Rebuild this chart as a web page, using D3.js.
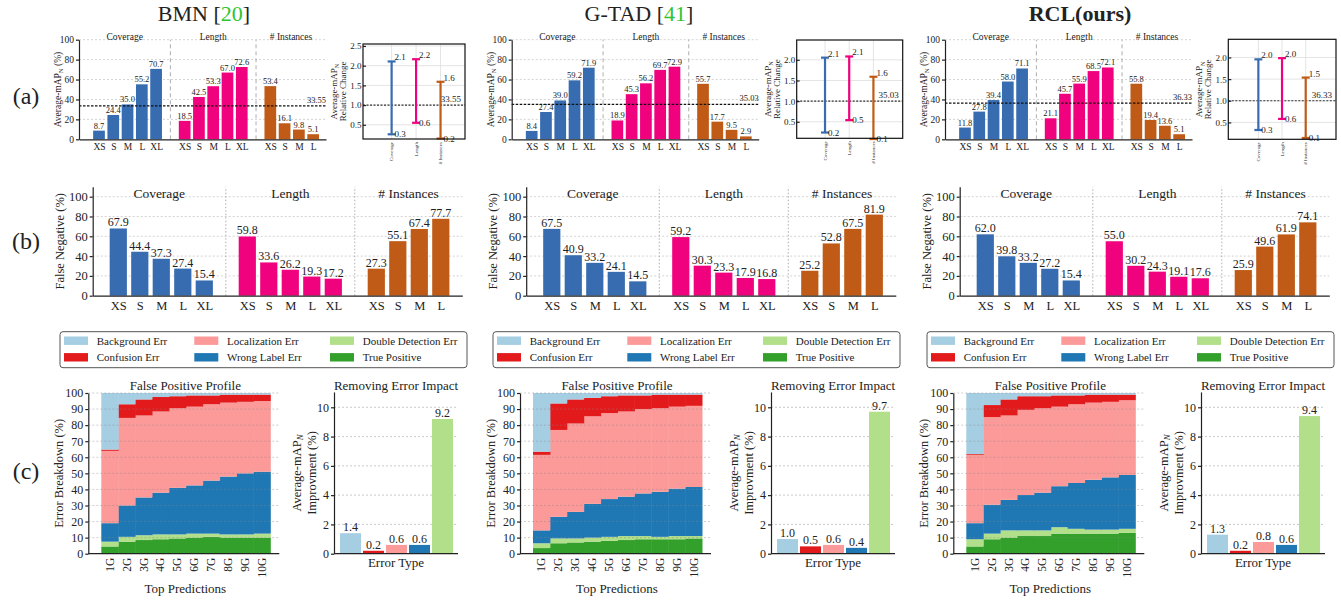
<!DOCTYPE html>
<html>
<head>
<meta charset="utf-8">
<script src="https://cdn.jsdelivr.net/npm/d3@7"></script>
<style>
body { margin: 0; background: #fff; }
svg text { font-family: "Liberation Serif", "DejaVu Serif", serif; fill: #222; }
</style>
</head>
<body>
<svg id="fig" width="1341" height="602"></svg>
<script>
// ---- data ----
const models = ["BMN", "G-TAD", "RCL(ours)"];
const modelRefs = ["20", "41", ""];
const sizeCats = ["XS", "S", "M", "L", "XL"];
const instCats = ["XS", "S", "M", "L"];
const groupNames = ["Coverage", "Length", "# Instances"];

// (a) average-mAP_N per characteristic, one row per model
const apCoverage = [[8.7, 24.4, 35.0, 55.2, 70.7], [8.4, 27.4, 39.0, 59.2, 71.9], [11.8, 27.8, 39.4, 58.0, 71.1]];
const apLength = [[18.5, 42.5, 53.3, 67.0, 72.6], [18.9, 45.3, 56.2, 69.7, 72.9], [21.1, 45.7, 55.9, 68.5, 72.1]];
const apInstances = [[53.4, 16.1, 9.8, 5.1], [55.7, 17.7, 9.5, 2.9], [55.8, 19.4, 13.6, 5.1]];
const apAverage = [33.55, 35.03, 36.33];

// (b) false negative rate
const fnCoverage = [[67.9, 44.4, 37.3, 27.4, 15.4], [67.5, 40.9, 33.2, 24.1, 14.5], [62.0, 39.8, 33.2, 27.2, 15.4]];
const fnLength = [[59.8, 33.6, 26.2, 19.3, 17.2], [59.2, 30.3, 23.3, 17.9, 16.8], [55.0, 30.2, 24.3, 19.1, 17.6]];
const fnInstances = [[27.3, 55.1, 67.4, 77.7], [25.2, 52.8, 67.5, 81.9], [25.9, 49.6, 61.9, 74.1]];

// (c) false positive profile (segment sizes, %)
const topLabels = ["1G", "2G", "3G", "4G", "5G", "6G", "7G", "8G", "9G", "10G"];
const errTypes = ["Background Err", "Confusion Err", "Localization Err", "Wrong Label Err", "Double Detection Err", "True Positive"];
const errColors = ["#a6cee3", "#e31a1c", "#fb9a99", "#1f78b4", "#b2df8a", "#33a02c"];
const fpTruePositive = [[4.5, 7.5, 8.5, 9, 9.5, 10, 10.5, 10, 10, 10], [3.5, 6.5, 7, 7.5, 8, 8.5, 9, 9, 9, 9.5], [4.5, 9, 10, 11, 11, 12.5, 12.5, 12.5, 12.5, 13]];
const fpDoubleDet = [[3, 3, 3, 3, 2.5, 2.5, 2, 2, 2, 2.5], [3, 3, 2.5, 2.5, 2.5, 2.5, 2, 1.5, 2, 1.5], [4.5, 3.5, 4.5, 3.5, 3.5, 4, 3, 2.5, 2.5, 2.5]];
const fpWrongLabel = [[11.5, 19.5, 23.5, 26, 29, 30, 33, 36, 38, 38.5], [8, 13.5, 16.5, 21, 23.5, 24.5, 26.5, 28, 29.5, 30.5], [10, 18, 19, 22, 23.5, 25.5, 28.5, 31, 32.5, 33.5]];
const fpLocalization = [[45, 54.5, 51, 50.5, 49.5, 49, 47.5, 46, 44.5, 44], [47, 54, 55, 54.5, 53.5, 53, 52.5, 52, 51, 50.5], [42.5, 54.5, 52.5, 53, 52.5, 49.5, 49, 48, 47, 46.5]];
const fpConfusion = [[0.8, 8.5, 10, 9, 7.5, 7, 5.5, 5, 4.5, 4], [2, 16.5, 15, 11.5, 10.5, 10, 8.5, 8.5, 7.5, 7], [0.5, 7.5, 10, 8.5, 7.5, 7, 5.5, 5, 4.5, 3.5]];
const fpBackground = [[35.2, 7, 4, 2.5, 2, 1.5, 1.5, 1, 1, 1], [36.5, 6.5, 4, 3, 2, 1.5, 1.5, 1, 1, 1], [38, 7.5, 4, 2, 2, 1.5, 1.5, 1, 1, 1]];

// removing error impact: BG, Confusion, Localization, Wrong Label, Double Detection
const impactValues = [[1.4, 0.2, 0.6, 0.6, 9.2], [1.0, 0.5, 0.6, 0.4, 9.7], [1.3, 0.2, 0.8, 0.6, 9.4]];

// ---- layout ----
const groupColors = ["#386cb0", "#f0027f", "#bf5b17"];
const colTitleX = [204, 639, 1080];
const aBarAx = [79, 511.7, 945];
const relBox = [
  { l: 363, r: 465, t: 44, b: 139, yDom: [0.14, 2.55], xDom: [-1.17, 3.0], ticks: [0.5, 1, 1.5, 2, 2.5] },
  { l: 796.7, r: 902.7, t: 40, b: 138.3, yDom: [0.1, 2.48], xDom: [-1.17, 3.21], ticks: [0.5, 1, 1.5, 2] },
  { l: 1228.3, r: 1336, t: 39.3, b: 139.3, yDom: [0.11, 2.42], xDom: [-1.27, 3.28], ticks: [0.5, 1, 1.5, 2] }
];
const bAx = [92.7, 526.2, 959.7];
const legendX = [60, 493, 927];
const fpAx = [88.3, 520, 953.3];
const impAx = [334, 771, 1201];

const svg = d3.select("#fig");

function label(g, x, y, str, size, anchor) {
  return g.append("text").attr("x", x).attr("y", y).attr("font-size", size)
    .attr("text-anchor", anchor || "middle").text(str);
}

// rotated label with subscript N
function mapLabel(g, x, y, size, after, italicN) {
  const t = g.append("text").attr("transform", `translate(${x},${y}) rotate(-90)`)
    .attr("font-size", size).attr("text-anchor", "middle").attr("dominant-baseline", "central");
  t.append("tspan").text("Average-mAP");
  t.append("tspan").attr("dy", size * 0.25).attr("font-size", size * 0.7)
    .attr("font-style", italicN ? "italic" : null).text("N");
  t.append("tspan").attr("dy", -size * 0.25).text(after);
  return t;
}

function styleAxis(a, size) {
  a.attr("color", "#222");
  a.selectAll("text").attr("font-size", size).attr("fill", "#222");
  a.selectAll("path, line").attr("stroke-width", 1.2);
}

// grouped bars for rows (a) and (b)
function groupChart(o) {
  const g = svg.append("g");
  const x = d3.scaleLinear().domain(o.xDom).range([o.ax, o.ax + o.w]);
  const unit = (o.y0 - o.y100) / 100;
  const y = d3.scaleLinear().domain([0, o.yMax]).range([o.y0, o.y0 - unit * o.yMax]);
  const items = [];
  o.series.forEach((arr, gi) => arr.forEach((v, i) =>
    items.push({ gi, v, slot: gi * 6 + i, cat: gi === 2 ? instCats[i] : sizeCats[i] })));

  g.selectAll(null).data(d3.range(20, 101, 20)).join("line")
    .attr("x1", o.ax).attr("x2", o.ax + o.w).attr("y1", d => y(d)).attr("y2", d => y(d))
    .attr("stroke", "#c8c8c8").attr("stroke-width", 0.8).attr("stroke-dasharray", "2,2");
  g.selectAll(null).data([5, 11]).join("line")
    .attr("x1", d => x(d)).attr("x2", d => x(d)).attr("y1", o.y0).attr("y2", y(o.yMax))
    .attr("stroke", "#999").attr("stroke-width", 0.8).attr("stroke-dasharray", o.divDash);

  const bw = (x(1) - x(0)) * o.barFrac;
  g.selectAll(null).data(items).join("rect")
    .attr("x", d => x(d.slot) - bw / 2).attr("width", bw)
    .attr("y", d => y(d.v)).attr("height", d => y(0) - y(d.v))
    .attr("fill", d => groupColors[d.gi]);
  g.selectAll(null).data(items).join("text")
    .attr("x", d => x(d.slot)).attr("y", d => y(d.v) - o.valGap)
    .attr("text-anchor", "middle").attr("font-size", o.fVal).text(d => d.v.toFixed(1));

  if (o.avg !== undefined) {
    g.append("line").attr("x1", o.ax).attr("x2", o.ax + o.w).attr("y1", y(o.avg)).attr("y2", y(o.avg))
      .attr("stroke", "#111").attr("stroke-width", 1.1).attr("stroke-dasharray", "2.5,1.5");
    label(g, o.ax + o.w, y(o.avg) - 3, o.avg.toFixed(2), o.fVal, "end");
  }

  const bounds = [o.xDom[0], 5, 11, o.xDom[1]];
  groupNames.forEach((name, i) => label(g, (x(bounds[i]) + x(bounds[i + 1])) / 2, o.titleY, name, o.fTitle));

  const ya = g.append("g").attr("transform", `translate(${o.ax},0)`)
    .call(d3.axisLeft(y).tickValues(d3.range(0, 101, 20)).tickSize(3).tickSizeOuter(0).tickPadding(2));
  styleAxis(ya, o.fTick);
  const xa = g.append("g").attr("transform", `translate(0,${o.y0})`)
    .call(d3.axisBottom(x).tickValues(items.map(d => d.slot)).tickFormat((s, i) => items[i].cat)
      .tickSize(0).tickSizeOuter(0).tickPadding(o.xPad));
  styleAxis(xa, o.fTick);

  const cy = (o.y0 + y(o.yMax)) / 2;
  if (o.yLabel) {
    g.append("text").attr("transform", `translate(${o.ax + o.yLabDx},${cy}) rotate(-90)`)
      .attr("font-size", o.fLab).attr("text-anchor", "middle").attr("dominant-baseline", "central").text(o.yLabel);
  } else {
    mapLabel(g, o.ax + o.yLabDx, cy, o.fLab, " (%)", false);
  }
}

// relative change panel in row (a)
function relChart(k) {
  const b = relBox[k];
  const g = svg.append("g");
  const x = d3.scaleLinear().domain(b.xDom).range([b.l, b.r]);
  const y = d3.scaleLinear().domain(b.yDom).range([b.b, b.t]);
  const avg = apAverage[k];
  const sets = [apCoverage[k], apLength[k], apInstances[k]];
  const bars = sets.map((arr, i) => ({ i, lo: d3.min(arr) / avg, hi: d3.max(arr) / avg }));

  g.selectAll(null).data(b.ticks).join("line")
    .attr("x1", b.l).attr("x2", b.r).attr("y1", d => y(d)).attr("y2", d => y(d))
    .attr("stroke", "#ddd").attr("stroke-width", 0.8);
  g.selectAll(null).data([0, 1, 2]).join("line")
    .attr("x1", d => x(d)).attr("x2", d => x(d)).attr("y1", b.t).attr("y2", b.b)
    .attr("stroke", "#ddd").attr("stroke-width", 0.8);
  g.append("line").attr("x1", b.l).attr("x2", b.r).attr("y1", y(1)).attr("y2", y(1))
    .attr("stroke", "#333").attr("stroke-width", 1.1).attr("stroke-dasharray", "2,1.5");
  label(g, b.r - 4, y(1) - 3, avg.toFixed(2), 9, "end");

  const eb = g.selectAll(null).data(bars).join("g").attr("stroke", d => groupColors[d.i]).attr("stroke-width", 2.2);
  eb.append("line").attr("x1", d => x(d.i)).attr("x2", d => x(d.i)).attr("y1", d => y(d.lo)).attr("y2", d => y(d.hi));
  eb.append("line").attr("x1", d => x(d.i) - 4).attr("x2", d => x(d.i) + 4).attr("y1", d => y(d.lo)).attr("y2", d => y(d.lo));
  eb.append("line").attr("x1", d => x(d.i) - 4).attr("x2", d => x(d.i) + 4).attr("y1", d => y(d.hi)).attr("y2", d => y(d.hi));
  g.selectAll(null).data(bars).join("text").attr("x", d => x(d.i) + 3).attr("y", d => y(d.hi) - 1)
    .attr("font-size", 9).text(d => d.hi.toFixed(1));
  g.selectAll(null).data(bars).join("text").attr("x", d => x(d.i) + 3).attr("y", d => y(d.lo) + 3)
    .attr("font-size", 9).text(d => d.lo.toFixed(1));

  const ya = g.append("g").attr("transform", `translate(${b.l},0)`)
    .call(d3.axisLeft(y).tickValues(b.ticks).tickFormat(d3.format(".1f")).tickSize(-3).tickSizeOuter(0).tickPadding(1.5));
  ya.select(".domain").remove();
  styleAxis(ya, 9);
  g.append("rect").attr("x", b.l).attr("y", b.t).attr("width", b.r - b.l).attr("height", b.b - b.t)
    .attr("fill", "none").attr("stroke", "#111").attr("stroke-width", 1.2);

  g.selectAll(null).data(groupNames).join("text")
    .attr("transform", (d, i) => `translate(${x(i) + 1.5},${b.b + 3}) rotate(-90)`)
    .attr("text-anchor", "end").attr("font-size", 5).attr("fill", "#444").text(d => d);

  const my = (b.t + b.b) / 2;
  mapLabel(g, b.l - 29, my, 9, "", false);
  g.append("text").attr("transform", `translate(${b.l - 20},${my}) rotate(-90)`)
    .attr("font-size", 9).attr("text-anchor", "middle").attr("dominant-baseline", "central").text("Relative Change");
}

function legend(k) {
  const L = legendX[k], T = 331.7;
  const g = svg.append("g");
  g.append("rect").attr("x", L).attr("y", T).attr("width", 407).attr("height", 36).attr("rx", 3)
    .attr("fill", "#fff").attr("stroke", "#555").attr("stroke-width", 1);
  const colX = [4, 134.3, 270];
  const it = g.selectAll(null).data(errTypes).join("g")
    .attr("transform", (d, i) => `translate(${L + colX[Math.floor(i / 2)]},${T + (i % 2 === 0 ? 9 : 25.6)})`);
  it.append("rect").attr("x", 0).attr("y", -4.2).attr("width", 24).attr("height", 8.4).attr("fill", (d, i) => errColors[i]);
  it.append("text").attr("x", 32.7).attr("y", 0).attr("dominant-baseline", "central").attr("font-size", 11).text(d => d);
}

function fpChart(k) {
  const ax = fpAx[k], y0 = 553.7;
  const g = svg.append("g");
  const x = d3.scaleBand().domain(topLabels).range([ax + 13, ax + 182]).padding(0);
  const y = d3.scaleLinear().domain([0, 100]).range([y0, 393]);
  const stackKeys = errTypes.slice().reverse();
  const segs = [fpTruePositive, fpDoubleDet, fpWrongLabel, fpLocalization, fpConfusion, fpBackground];
  const rows = topLabels.map((t, i) => {
    const r = { label: t };
    stackKeys.forEach((key, j) => { r[key] = segs[j][k][i]; });
    return r;
  });
  const series = d3.stack().keys(stackKeys)(rows);
  g.selectAll(null).data(series).join("g").attr("fill", d => errColors[errTypes.indexOf(d.key)])
    .selectAll("rect").data(d => d).join("rect")
    .attr("x", d => x(d.data.label)).attr("width", x.bandwidth() + 0.5)
    .attr("y", d => y(d[1])).attr("height", d => y(d[0]) - y(d[1]));
  g.selectAll(null).data(d3.range(10, 101, 10)).join("line")
    .attr("x1", ax).attr("x2", ax + 191).attr("y1", d => y(d)).attr("y2", d => y(d))
    .attr("stroke", "#888").attr("stroke-opacity", 0.5).attr("stroke-width", 0.8).attr("stroke-dasharray", "2,2");

  const ya = g.append("g").attr("transform", `translate(${ax},0)`)
    .call(d3.axisLeft(y).tickValues(d3.range(0, 101, 10)).tickSize(3).tickSizeOuter(0).tickPadding(2));
  styleAxis(ya, 12);
  const xa = g.append("g").attr("transform", `translate(0,${y0})`)
    .call(d3.axisBottom(x).tickSize(0).tickSizeOuter(0));
  xa.select(".domain").attr("d", `M${ax},0H${ax + 191}`);
  styleAxis(xa, 11.5);
  xa.selectAll("text").attr("transform", "rotate(-90)").attr("text-anchor", "end")
    .attr("x", -4).attr("y", 0).attr("dy", "0.35em");

  label(g, ax + 97, 389.5, "False Positive Profile", 13);
  label(g, ax + 97, 593, "Top Predictions", 13);
  g.append("text").attr("transform", `translate(${ax - 29},${(y0 + 393) / 2}) rotate(-90)`)
    .attr("font-size", 12.5).attr("text-anchor", "middle").attr("dominant-baseline", "central").text("Error Breakdown (%)");
}

function impactChart(k) {
  const ax = impAx[k], y0 = 553.7;
  const g = svg.append("g");
  const vals = impactValues[k];
  const x = d3.scaleBand().domain(d3.range(vals.length)).range([ax + 5, ax + 120]).paddingInner(0.087).paddingOuter(0.043);
  const unit = (y0 - 407.3) / 10;
  const y = d3.scaleLinear().domain([0, 11.05]).range([y0, y0 - unit * 11.05]);
  g.selectAll(null).data(d3.range(2, 11, 2)).join("line")
    .attr("x1", ax).attr("x2", ax + 124).attr("y1", d => y(d)).attr("y2", d => y(d))
    .attr("stroke", "#bbb").attr("stroke-width", 0.8).attr("stroke-dasharray", "2,2");
  g.selectAll(null).data(vals).join("rect")
    .attr("x", (d, i) => x(i)).attr("width", x.bandwidth())
    .attr("y", d => y(d)).attr("height", d => y(0) - y(d)).attr("fill", (d, i) => errColors[i]);
  g.selectAll(null).data(vals).join("text")
    .attr("x", (d, i) => x(i) + x.bandwidth() / 2).attr("y", d => y(d) - 2)
    .attr("text-anchor", "middle").attr("font-size", 12).text(d => d.toFixed(1));
  const ya = g.append("g").attr("transform", `translate(${ax},0)`)
    .call(d3.axisLeft(y).tickValues(d3.range(0, 11, 2)).tickSize(3).tickSizeOuter(0).tickPadding(2));
  styleAxis(ya, 12);
  g.append("line").attr("x1", ax).attr("x2", ax + 124).attr("y1", y0).attr("y2", y0)
    .attr("stroke", "#222").attr("stroke-width", 1.2);
  label(g, ax + 62, 389.5, "Removing Error Impact", 13);
  label(g, ax + 62, 567, "Error Type", 13);
  mapLabel(g, ax - 37, 473, 12.5, "", true);
  g.append("text").attr("transform", `translate(${ax - 22},473) rotate(-90)`)
    .attr("font-size", 12.5).attr("text-anchor", "middle").attr("dominant-baseline", "central").text("Improvment (%)");
}

// ---- draw ----
models.forEach((m, k) => {
  const t = svg.append("text").attr("x", colTitleX[k]).attr("y", 21).attr("font-size", 22)
    .attr("text-anchor", "middle").attr("font-weight", k === 2 ? "bold" : null);
  t.append("tspan").text(m);
  if (modelRefs[k]) {
    t.append("tspan").text(" [");
    t.append("tspan").attr("fill", "#2fc42f").text(modelRefs[k]);
    t.append("tspan").text("]");
  }

  groupChart({
    ax: aBarAx[k], w: 247, xDom: [-1.4, 15.9], y0: 139.3, y100: 39.7, yMax: 100,
    series: [apCoverage[k], apLength[k], apInstances[k]], avg: apAverage[k],
    barFrac: 0.82, fVal: 8.5, fTick: 9.5, fTitle: 9.5, fLab: 9.5, titleY: 40, valGap: 2,
    xPad: 4, yLabDx: -21, divDash: "4,3"
  });
  relChart(k);

  groupChart({
    ax: bAx[k], w: 369.6, xDom: [-1.19, 16], y0: 295.7, y100: 196.7, yMax: 110,
    series: [fnCoverage[k], fnLength[k], fnInstances[k]],
    barFrac: 0.8, fVal: 12, fTick: 12.5, fTitle: 13.5, fLab: 12.5, titleY: 198, valGap: 2,
    xPad: 5, yLabDx: -33, divDash: "1.5,2", yLabel: "False Negative (%)"
  });

  legend(k);
  fpChart(k);
  impactChart(k);
});

label(svg, 26, 104, "(a)", 24);
label(svg, 26, 249, "(b)", 24);
label(svg, 26, 479, "(c)", 24);
</script>
</body>
</html>
